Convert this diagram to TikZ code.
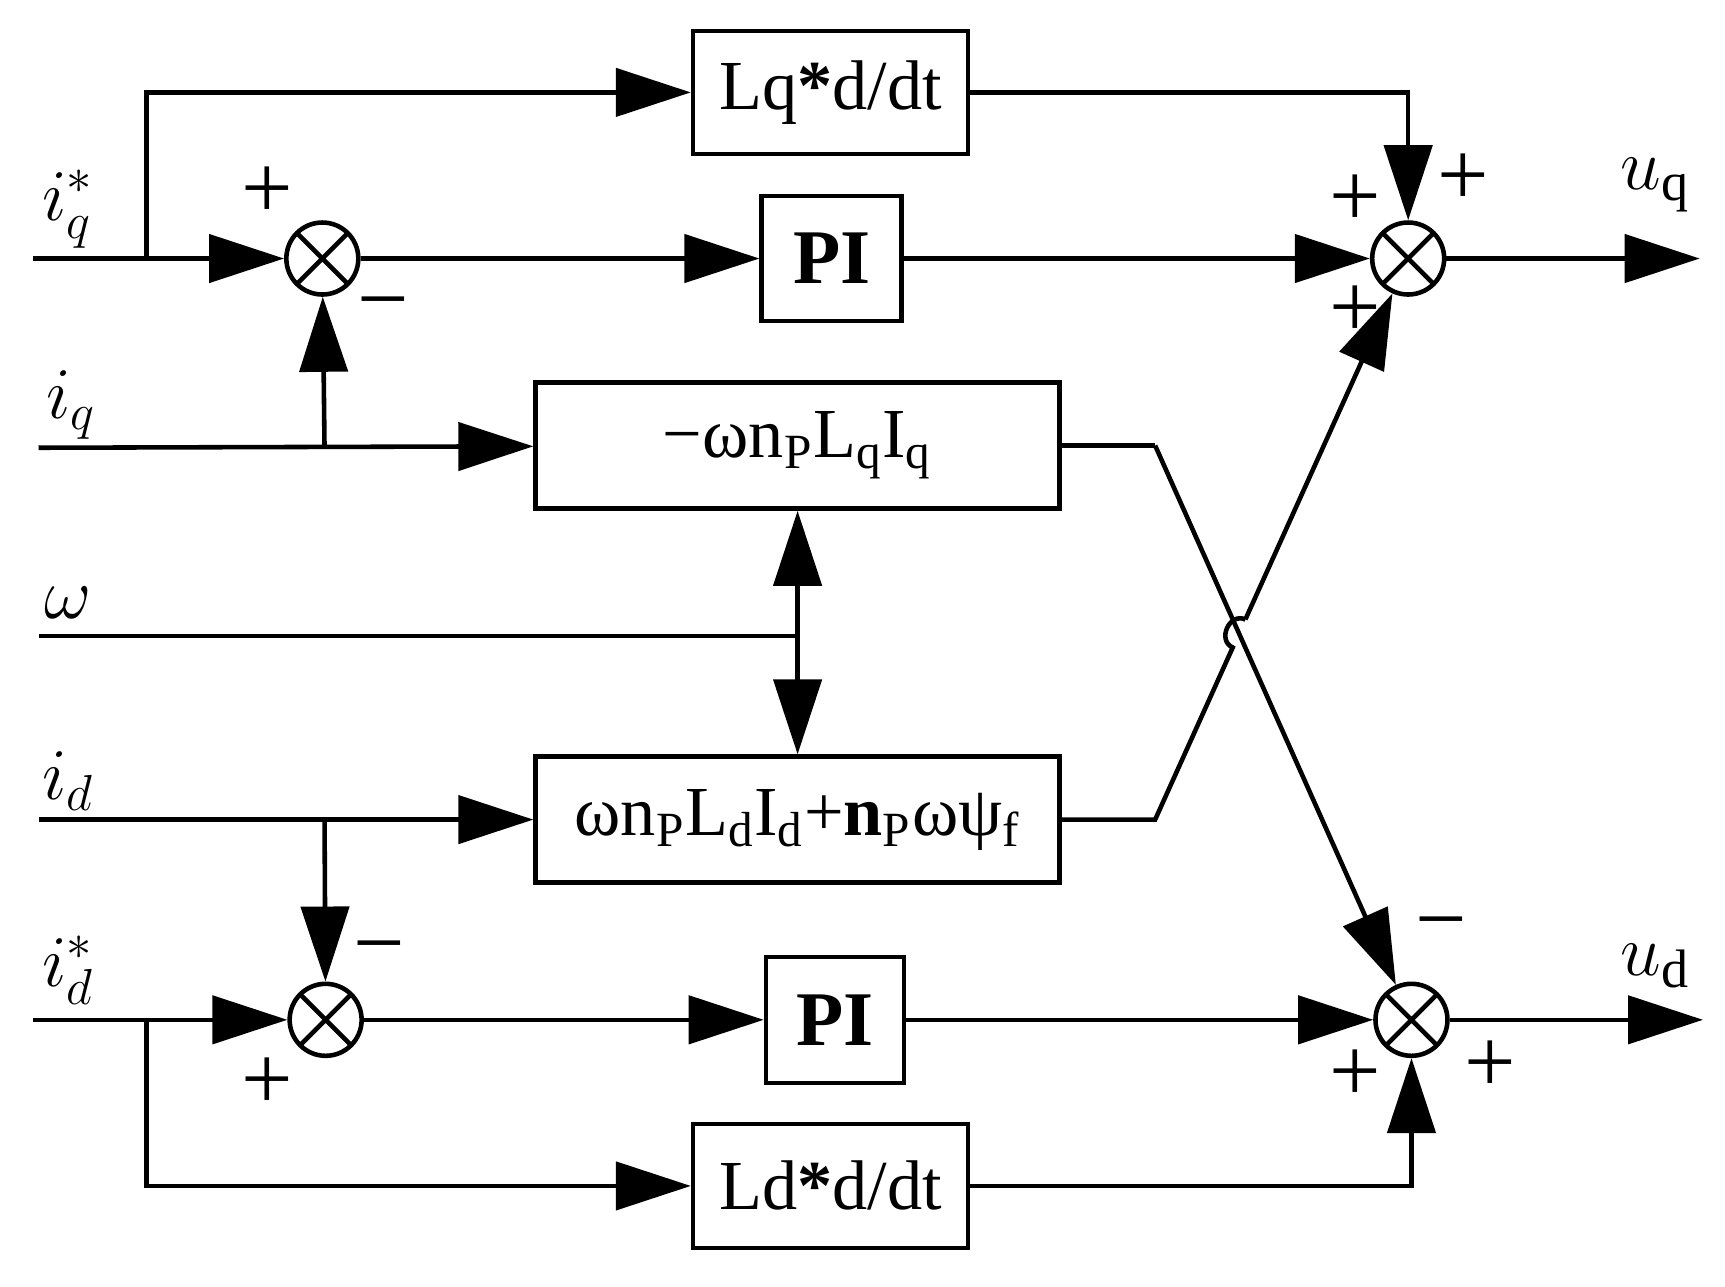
\documentclass[tikz,border=0pt]{standalone}
\usepackage{fontspec}
\setmainfont{Liberation Serif}
\usetikzlibrary{arrows.meta}
\begin{document}
\begin{tikzpicture}[x=0.011cm,y=-0.011cm,
  line width=1.3pt,
  arr/.style={-{Triangle[length=0.75cm,width=0.48cm]}},
  box/.style={draw,rectangle,inner sep=0pt,font=\fontsize{20}{24}\selectfont},
  sum/.style={draw,circle,minimum size=0.72cm,inner sep=0pt,path picture={
     \draw (path picture bounding box.north west)--(path picture bounding box.south east)
           (path picture bounding box.north east)--(path picture bounding box.south west);}},
  lab/.style={font=\fontsize{22}{24}\selectfont},
  sg/.style={font=\fontsize{26}{28}\selectfont}]
\useasboundingbox (0,0) rectangle (1568,1169);
% blocks
\node[box,minimum width=2.75cm,minimum height=1.23cm] (lq) at (755,84) {Lq\textbf{*}d/dt};
\node[box,minimum width=1.4cm,minimum height=1.25cm,font=\fontsize{22}{24}\selectfont\bfseries] (pi1) at (756,235) {PI};
\node[box,minimum width=5.24cm,minimum height=1.26cm] (nb) at (725,405) {−ωn\textsubscript{P}L\textsubscript{q}I\textsubscript{q}};
\node[box,minimum width=5.24cm,minimum height=1.26cm] (pb) at (725,745) {ωn\textsubscript{P}L\textsubscript{d}I\textsubscript{d}+\textbf{n}\textsubscript{P}ωψ\textsubscript{f}};
\node[box,minimum width=1.38cm,minimum height=1.26cm,font=\fontsize{22}{24}\selectfont\bfseries] (pi2) at (759,927) {PI};
\node[box,minimum width=2.75cm,minimum height=1.24cm] (ld) at (755,1078) {Ld\textbf{*}d/dt};
\node[sum] (s1) at (293,235) {};
\node[sum] (s2) at (1280,235) {};
\node[sum] (s3) at (296,927) {};
\node[sum] (s4) at (1283,927) {};
% coordinates
\coordinate (iqs) at (30,235);
\coordinate (bq) at (133,235);
\coordinate (iq) at (35,407);
\coordinate (bi) at (295,407);
\coordinate (w) at (35,578);
\coordinate (wb) at (725,578);
\coordinate (id) at (35,745);
\coordinate (bd) at (295,745);
\coordinate (ids) at (30,927);
\coordinate (bds) at (133,927);
\coordinate (uq) at (1545,235);
\coordinate (ud) at (1548,927);
\coordinate (k1) at (1050,405);
\coordinate (k2) at (1050,745);
\coordinate (h1) at (1120.5,588.6);
\coordinate (h2) at (1132,563.1);
% connectors
\draw (iqs) -- (bq);
\draw[arr] (bq) -- (s1);
\draw[arr] (bq) |- (lq);
\draw[arr] (s1) -- (pi1);
\draw[arr] (pi1) -- (s2);
\draw[arr] (lq) -| (s2);
\draw[arr] (s2) -- (uq);
\draw[arr] (iq) -- (nb);
\draw[arr] (bi) -- (s1);
\draw (w) -- (wb);
\draw[arr] (wb) -- (nb);
\draw[arr] (wb) -- (pb);
\draw[arr] (id) -- (pb);
\draw[arr] (bd) -- (s3);
\draw (ids) -- (bds);
\draw[arr] (bds) -- (s3);
\draw[arr] (bds) |- (ld);
\draw[arr] (s3) -- (pi2);
\draw[arr] (pi2) -- (s4);
\draw[arr] (ld) -| (s4);
\draw[arr] (s4) -- (ud);
\draw (nb.east) -- (k1);
\draw[arr] (k1) -- (s4);
\draw (pb.east) -- (k2) -- (h1) .. controls (1106,582) and (1117.4,556.5) .. (h2);
\draw[arr] (h2) -- (s2);
% labels
\node[lab] (l1) at (62,190) {$i_q^{*}$};
\node[lab] (l2) at (65,368) {$i_q$};
\node[lab] (l3) at (62,548) {$\omega$};
\node[lab] (l4) at (62,710) {$i_d$};
\node[lab] (l5) at (62,882) {$i_d^{*}$};
\node[lab] (l6) at (1505,168) {$u$\textsubscript{q}};
\node[lab] (l7) at (1505,878) {$u$\textsubscript{d}};
% signs
\node[sg] (a1) at (243,175) {+};
\node[sg] (a2) at (348,285) {−};
\node[sg] (a3) at (1232,182) {+};
\node[sg] (a4) at (1330,163) {+};
\node[sg] (a5) at (1232,283) {+};
\node[sg] (a6) at (345,870) {−};
\node[sg] (a7) at (243,985) {+};
\node[sg] (a8) at (1310,848) {−};
\node[sg] (a9) at (1232,978) {+};
\node[sg] (a10) at (1355,970) {+};
\end{tikzpicture}
\end{document}
